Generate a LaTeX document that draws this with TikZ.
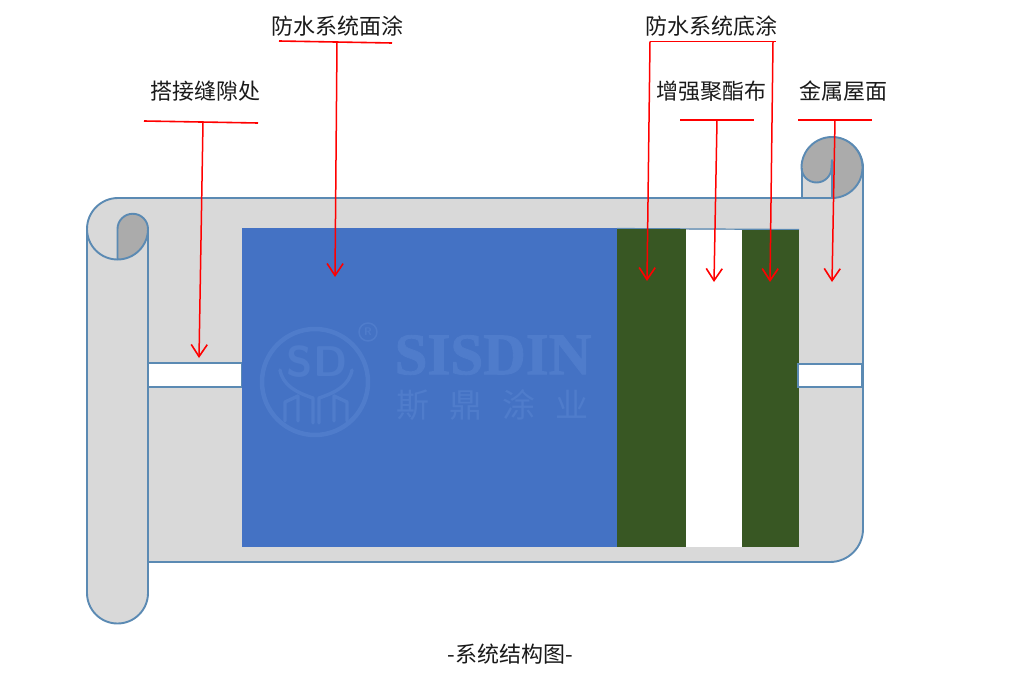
\documentclass[tikz,border=0pt]{standalone}
\usepackage{fontspec}
\usetikzlibrary{arrows.meta}
\newfontfamily\cjk{Noto Sans CJK SC}
\newfontfamily\wmserif[BoldFeatures={FakeBold=1.5}]{Liberation Serif}
\definecolor{rollfill}{HTML}{D9D9D9}
\definecolor{rolldark}{HTML}{ABABAB}
\definecolor{rollline}{HTML}{5B8AB3}
\definecolor{coat}{HTML}{4472C4}
\definecolor{basecoat}{HTML}{385723}
\definecolor{mark}{HTML}{4F7CCB}
\definecolor{lbl}{HTML}{1A1A1A}
\tikzset{
  x=1pt,y=-1pt,
  roll/.style={draw=rollline,line width=1.9pt,line join=round},
  lab/.style={font=\cjk\fontsize{22}{24}\selectfont,text=lbl,inner sep=0pt},
  bar/.style={draw=red,line width=1.6pt},
  pointer/.style={draw=red,line width=1.5pt,-{Straight Barb[length=12pt,width=16pt,line width=1.6pt]}},
  wm/.style={draw=mark,line width=3.4pt,line cap=round,line join=round},
  wmt/.style={text=mark,inner sep=0pt}
}
\begin{document}
\begin{tikzpicture}
\useasboundingbox[fill=white] (0,0) rectangle (1024,680);
% roll body
\draw[roll,fill=rollfill] (148,562) -- (830,562) arc[start angle=-90,end angle=0,radius=33pt]
 -- (863,168) arc[start angle=0,end angle=180,radius=30.5pt]
 -- (802,198) -- (118,198)
 arc[start angle=90,end angle=180,radius=31pt]
 -- (87,593) arc[start angle=180,end angle=360,radius=30.5pt]
 -- cycle;
% top-right curl
\draw[roll,fill=rolldark] (832,198) arc[start angle=-90,end angle=0,radius=30.5pt]
  arc[start angle=0,end angle=180,radius=30.5pt]
  arc[start angle=180,end angle=360,radius=15pt]
  -- (832,160) -- (832,168) -- cycle;
\draw[roll] (802,168) -- (802,198) -- (832,198);
% left curl
\draw[roll,fill=rolldark] (117.5,259.5) -- (117.5,229) arc[start angle=180,end angle=0,radius=15.25pt]
  arc[start angle=0,end angle=-90,radius=30.5pt] -- cycle;
\draw[roll] (87,229) arc[start angle=180,end angle=270,radius=30.5pt];
\draw[roll] (148,229) -- (148,562);
% layers
\draw[draw=rollline,line width=1.2pt] (617,228.5) -- (799,229.5);
\fill[coat] (242,228) rectangle (617,547);
\fill[basecoat] (617,229) rectangle (686,547);
\fill[white] (686,230) rectangle (742,547);
\fill[basecoat] (742,230) rectangle (799,547);
% strips
\draw[draw=rollline,line width=1.2pt,fill=white] (148,363) rectangle (242,387);
\draw[draw=rollline,line width=1.6pt,fill=white] (798,364) rectangle (862,387);
\fill[coat] (242,362) rectangle (243,388);
% watermark
\draw[wm,line width=4.5pt] (315,382) circle[radius=53pt];
\draw[wm,line width=1.5pt] (368,332) circle[radius=9pt];
\node[wmt,font=\sffamily\bfseries\fontsize{11}{11}\selectfont] (wmr) at (368,332) {R};
\node[wmt,font=\sffamily\bfseries\fontsize{43}{43}\selectfont] (wmsd) at (317,362) {SD};
\draw[wm] (280,370) .. controls (283,385) and (295,392) .. (313,398) -- (313,423);
\draw[wm] (352,370) .. controls (349,385) and (337,392) .. (319,398) -- (319,423);
\draw[wm] (285,421) -- (285,402) -- (298,396) -- (298,421);
\draw[wm] (347,421) -- (347,402) -- (334,396) -- (334,421);
\node[wmt,font=\wmserif\bfseries\fontsize{59}{59}\selectfont] (wmname) at (493,355) {SISDIN};
\node[wmt,font=\cjk\fontsize{33}{33}\selectfont] (wmcn) at (492,405) {斯\hspace{20pt}鼎\hspace{20pt}涂\hspace{20pt}业};
% labels
\node[lab] (gap) at (205,91) {搭接缝隙处};
\node[lab] (top) at (337,26) {防水系统面涂};
\node[lab] (base) at (711,26) {防水系统底涂};
\node[lab] (fab) at (711,91) {增强聚酯布};
\node[lab] (roof) at (843,91) {金属屋面};
\node[lab] (cap) at (510,654) {-系统结构图-};
% label bars
\coordinate (gapL) at (144,121); \coordinate (gapR) at (258,123);
\coordinate (topL) at (279,41); \coordinate (topR) at (392,43);
\coordinate (baseL) at (650,41.5); \coordinate (baseR) at (776,41.5);
\coordinate (fabL) at (680,120); \coordinate (fabR) at (754,120);
\coordinate (roofL) at (798,120); \coordinate (roofR) at (872,120);
\draw[bar] (gapL) -- (gapR);
\draw[bar] (topL) -- (topR);
\draw[bar] (baseL) -- (baseR);
\draw[bar] (fabL) -- (fabR);
\draw[bar] (roofL) -- (roofR);
% pointers
\coordinate (p1) at (203,122); \coordinate (q1) at (199,358);
\coordinate (p2) at (337,42); \coordinate (q2) at (335,277);
\coordinate (p3) at (650,41.5); \coordinate (q3) at (647,281);
\coordinate (p4) at (773,41.5); \coordinate (q4) at (770,282);
\coordinate (p5) at (717,120); \coordinate (q5) at (714,282);
\coordinate (p6) at (835,120); \coordinate (q6) at (832,282);
\foreach \n in {1,...,6}{\draw[pointer] (p\n) -- (q\n);}
\end{tikzpicture}
\end{document}
